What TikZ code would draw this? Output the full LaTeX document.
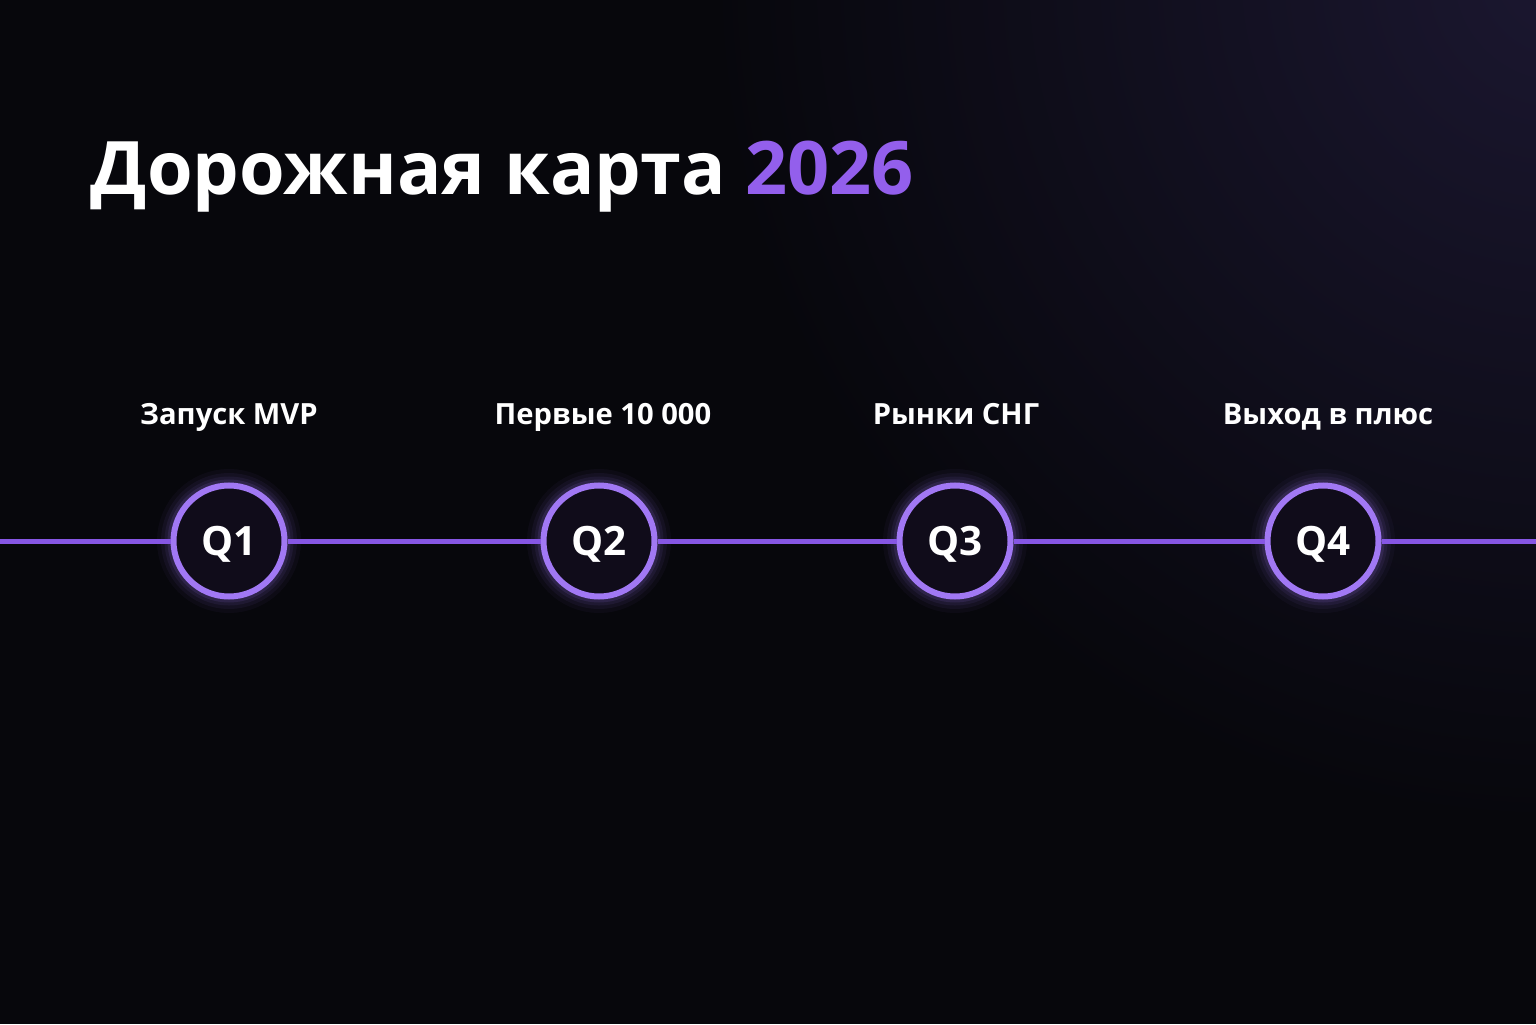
\documentclass[tikz,border=0pt]{standalone}
\usepackage{fontspec}
\setmainfont{Open Sans}
\usepackage{tikz}
\usetikzlibrary{positioning,calc}
\definecolor{bgdark}{HTML}{07070C}
\definecolor{bgglow}{HTML}{1B1730}
\definecolor{ringpurple}{HTML}{A178F4}
\definecolor{linepurple}{HTML}{8656E4}
\definecolor{yearpurple}{HTML}{935FEC}
\definecolor{qfill}{HTML}{100C1A}
\tikzstyle{quarter}=[circle,draw=ringpurple,line width=0.6mm,fill=qfill,minimum size=1.11cm,inner sep=0pt,text depth=0pt,text=white,font=\bfseries\fontsize{11.5}{14}\selectfont]
\tikzstyle{milestone}=[anchor=base,text=white,font=\bfseries\fontsize{8.3}{10}\selectfont]
\tikzstyle{track}=[linepurple,line width=0.5mm]

\begin{document}
\begin{tikzpicture}
% background
\fill[bgdark] (0,0) rectangle (15.36,10.24);
\begin{scope}
\clip (0,0) rectangle (15.36,10.24);
\shade[inner color=bgglow,outer color=bgdark] (15.6,10.5) circle (8.5);
\end{scope}
\useasboundingbox (0,0) rectangle (15.36,10.24);
% title
\node (title) [anchor=base west,inner sep=0pt,text=white,font=\bfseries\fontsize{21}{24}\selectfont] at (0.9,8.29) {Дорожная карта \textcolor{yearpurple}{2026}};
% quarters
\coordinate (L) at (0,4.83);
\coordinate (R) at (15.36,4.83);
\foreach \x in {2.29,5.99,9.55,13.23}
  \foreach \w/\o in {3.2/0.04,2.4/0.06,1.7/0.08,1.1/0.12}
    \draw[ringpurple,line width=\w mm,opacity=\o] (\x,4.83) circle (0.56);
\node (q1) [quarter] at (2.29,4.83) {Q1};
\node (q2) [quarter] at (5.99,4.83) {Q2};
\node (q3) [quarter] at (9.55,4.83) {Q3};
\node (q4) [quarter] at (13.23,4.83) {Q4};
\draw[track] (L)--(q1) (q1)--(q2) (q2)--(q3) (q3)--(q4) (q4)--(R);
% labels
\node (m1) [milestone] at (2.29,5.99) {Запуск MVP};
\node (m2) [milestone] at (6.03,5.99) {Первые 10 000};
\node (m3) [milestone] at (9.56,5.99) {Рынки СНГ};
\node (m4) [milestone] at (13.28,5.99) {Выход в плюс};
\end{tikzpicture}
\end{document}
